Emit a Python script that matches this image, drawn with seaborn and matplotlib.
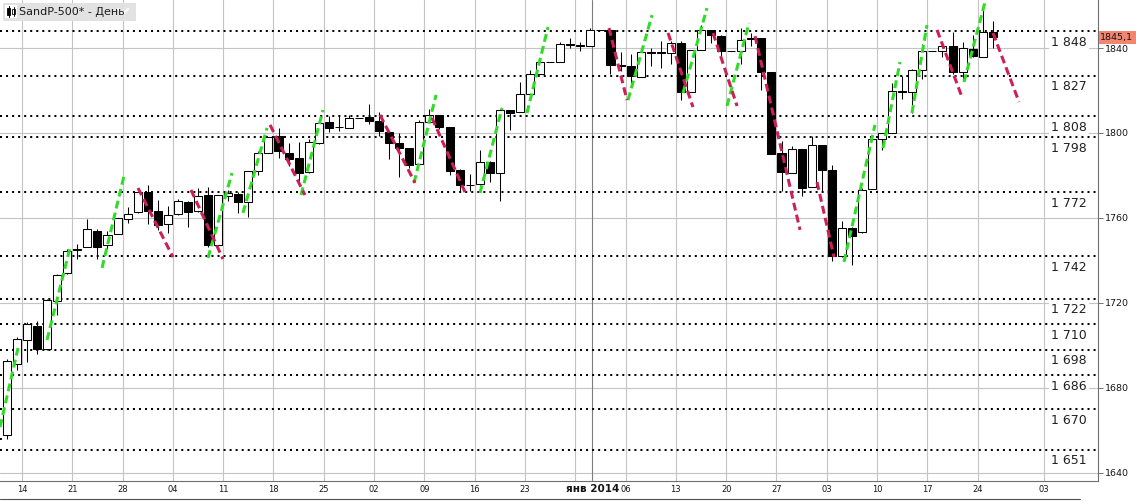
import numpy as np
import pandas as pd
import seaborn as sns
import matplotlib.pyplot as plt
from matplotlib.patches import Rectangle
from matplotlib.lines import Line2D

W, H = 1136, 501

# daily bars, 9 Oct 2013 .. 25 Feb 2014 (weekday slots, holidays are flat bars)
dates = pd.bdate_range("2013-10-09", "2014-02-25")

opens = [1656.0, 1658.0, 1691.1, 1702.7, 1709.2, 1698.5, 1721.0, 1734.0, 1745.2, 1746.5,
         1754.0, 1747.5, 1752.5, 1759.4, 1762.9, 1772.3, 1763.2, 1757.0, 1762.0, 1767.5,
         1763.5, 1770.7, 1747.5, 1770.3, 1771.5, 1767.7, 1782.0, 1790.7, 1798.5, 1790.8,
         1788.0, 1781.5, 1795.4, 1805.0, 1802.9, 1802.5, 1807.2, 1807.7, 1805.8, 1800.6,
         1795.1, 1792.8, 1785.5, 1805.0, 1808.5, 1802.8, 1782.6, 1775.7, 1776.0, 1786.5,
         1781.0, 1810.8, 1809.7, 1818.5, 1828.0, 1833.3, 1833.5, 1841.8, 1841.5, 1841.0,
         1848.4, 1848.6, 1832.0, 1831.5, 1826.5, 1837.9, 1837.7, 1837.8, 1842.5, 1819.2,
         1839.0, 1848.4, 1845.6, 1838.7, 1838.7, 1844.1, 1844.6, 1828.9, 1790.4, 1781.3,
         1792.3, 1774.4, 1794.4, 1782.6, 1741.9, 1755.2, 1753.3, 1773.5, 1797.0, 1799.9,
         1819.9, 1819.5, 1829.6, 1838.6, 1838.6, 1840.8, 1828.5, 1839.4, 1836.0, 1847.4]
highs = [1662.6, 1693.5, 1704.0, 1711.0, 1711.6, 1721.8, 1733.5, 1745.3, 1747.8, 1759.3,
         1754.7, 1754.0, 1759.9, 1765.0, 1772.1, 1775.3, 1768.5, 1765.5, 1768.8, 1767.8,
         1773.9, 1774.5, 1770.8, 1773.4, 1772.0, 1782.0, 1791.5, 1798.3, 1802.3, 1795.5,
         1795.8, 1797.2, 1804.8, 1808.1, 1808.4, 1808.3, 1807.2, 1813.6, 1810.0, 1800.6,
         1799.8, 1792.8, 1806.0, 1811.5, 1808.5, 1803.0, 1783.0, 1780.9, 1792.2, 1786.8,
         1811.1, 1810.9, 1823.8, 1829.8, 1833.3, 1833.3, 1842.8, 1844.9, 1843.0, 1849.4,
         1848.4, 1848.6, 1838.2, 1837.2, 1840.1, 1840.0, 1843.2, 1843.2, 1843.5, 1839.3,
         1850.8, 1848.4, 1846.0, 1838.7, 1849.3, 1846.9, 1844.6, 1828.9, 1796.0, 1793.9,
         1792.5, 1798.8, 1794.4, 1784.8, 1758.7, 1755.8, 1774.1, 1798.0, 1799.9, 1823.5,
         1826.6, 1830.3, 1841.7, 1838.6, 1842.9, 1847.5, 1842.8, 1846.1, 1858.7, 1852.9]
lows = [1646.5, 1656.0, 1688.6, 1692.1, 1695.9, 1698.0, 1714.1, 1733.5, 1740.7, 1746.5,
        1740.5, 1745.5, 1752.3, 1757.7, 1762.5, 1757.2, 1754.5, 1752.7, 1761.6, 1755.8,
        1763.0, 1746.2, 1746.6, 1767.9, 1762.3, 1760.6, 1780.2, 1790.6, 1788.0, 1784.7,
        1777.2, 1781.3, 1794.7, 1800.6, 1800.8, 1802.5, 1807.2, 1804.0, 1798.6, 1787.9,
        1779.1, 1783.4, 1785.3, 1805.0, 1801.8, 1780.1, 1772.3, 1772.5, 1775.5, 1777.1,
        1768.0, 1801.4, 1809.7, 1818.0, 1828.0, 1833.3, 1833.3, 1839.8, 1838.5, 1840.8,
        1848.4, 1827.7, 1829.1, 1823.7, 1826.5, 1831.4, 1830.4, 1832.4, 1815.5, 1819.2,
        1839.0, 1842.3, 1835.2, 1838.7, 1832.4, 1840.9, 1820.1, 1790.3, 1772.9, 1781.0,
        1770.5, 1774.4, 1772.3, 1739.7, 1741.5, 1737.9, 1753.0, 1773.5, 1791.8, 1799.9,
        1816.0, 1809.2, 1825.6, 1838.6, 1835.6, 1828.0, 1824.6, 1835.6, 1835.9, 1840.2]
closes = [1656.4, 1692.6, 1703.2, 1710.1, 1698.1, 1721.5, 1733.2, 1744.5, 1744.7, 1754.7,
          1746.4, 1752.1, 1759.8, 1762.1, 1772.0, 1763.3, 1756.5, 1761.6, 1767.9, 1763.0,
          1770.5, 1747.2, 1770.6, 1771.9, 1767.7, 1782.0, 1790.6, 1798.2, 1791.5, 1787.9,
          1781.4, 1795.9, 1804.8, 1802.5, 1802.8, 1807.2, 1807.2, 1805.8, 1800.9, 1795.2,
          1792.8, 1785.0, 1805.1, 1808.4, 1802.6, 1782.2, 1775.5, 1775.3, 1786.5, 1781.0,
          1810.7, 1809.6, 1818.3, 1828.0, 1833.3, 1833.3, 1842.0, 1841.4, 1841.1, 1848.4,
          1848.4, 1832.0, 1831.4, 1826.8, 1837.9, 1837.5, 1838.1, 1842.4, 1819.2, 1838.9,
          1848.4, 1845.9, 1838.7, 1838.7, 1843.8, 1844.9, 1828.5, 1790.3, 1781.6, 1792.5,
          1774.2, 1794.2, 1782.6, 1741.9, 1755.2, 1751.6, 1773.4, 1797.0, 1799.8, 1819.8,
          1819.3, 1829.8, 1838.6, 1838.6, 1840.8, 1828.8, 1839.8, 1836.3, 1847.6, 1845.1]

# horizontal support / resistance levels
levels = [1848, 1827, 1808, 1798, 1772, 1742, 1722, 1710, 1698, 1686, 1670, 1651]

# dashed projection segments: (bar slot, price) start -> end
up_x0 = [0.32, 4.99, 10.46, 20.99, 24.47, 30.24, 41.47, 48.03, 52.70, 62.74, 68.21, 72.58, 84.21, 88.09, 90.97, 96.14]
up_p0 = [1661.6, 1702.6, 1736.5, 1741.2, 1762.4, 1770.8, 1776.5, 1771.8, 1809.4, 1815.5, 1818.8, 1812.7, 1739.3, 1792.9, 1809.4, 1824.0]
up_x1 = [2.11, 7.27, 12.64, 23.38, 26.86, 32.42, 43.66, 50.22, 54.79, 65.13, 70.59, 74.77, 87.29, 89.78, 92.46, 98.23]
up_p1 = [1698.8, 1745.9, 1779.8, 1781.2, 1802.4, 1810.8, 1817.9, 1811.8, 1849.9, 1855.5, 1858.8, 1851.8, 1803.8, 1833.4, 1850.8, 1861.6]
dn_x0 = [14.03, 19.30, 27.16, 38.09, 43.26, 60.85, 66.72, 71.19, 75.37, 81.53, 93.46, 99.02]
dn_p0 = [1774.1, 1773.2, 1803.8, 1808.5, 1807.1, 1849.4, 1847.1, 1847.1, 1845.6, 1776.9, 1848.5, 1847.1]
dn_x1 = [17.51, 22.48, 30.63, 41.57, 46.54, 62.64, 69.20, 73.58, 79.84, 83.22, 95.94, 101.61]
dn_p1 = [1741.6, 1740.7, 1770.8, 1776.5, 1772.2, 1815.5, 1812.2, 1812.7, 1754.4, 1741.6, 1816.9, 1814.6]

price_ticks = [1640, 1680, 1720, 1760, 1800, 1840]
future_tick = 104.1      # "03" (March) sits past the last bar
SEG_COLORS = {"up": "#30dc28", "down": "#cc2157"}
GRID = "#c4c4c4"


def fx(px):
    return px / W


def fy(py):
    return 1 - py / H


def draw_candles(ax, x):
    o, h, l, c = (np.asarray(v) for v in (opens, highs, lows, closes))
    ax.vlines(x, l, h, color="black", lw=0.75, zorder=4)
    up = c >= o
    body_lo = np.minimum(o, c)
    body_h = np.abs(c - o)
    ax.bar(x[up], body_h[up], bottom=body_lo[up], width=0.8, color="white",
           edgecolor="black", linewidth=0.75, zorder=5)
    ax.bar(x[~up], body_h[~up], bottom=body_lo[~up], width=0.8, color="black",
           edgecolor="black", linewidth=0.75, zorder=5)


def draw_segments(ax):
    rows = []
    for kind, a0, b0, a1, b1 in (("up", up_x0, up_p0, up_x1, up_p1),
                                 ("down", dn_x0, dn_p0, dn_x1, dn_p1)):
        for k, seg in enumerate(zip(a0, b0, a1, b1)):
            rows.append({"seg": f"{kind}{k}", "kind": kind, "x": seg[0], "price": seg[1]})
            rows.append({"seg": f"{kind}{k}", "kind": kind, "x": seg[2], "price": seg[3]})
    segs = pd.DataFrame(rows)
    sns.lineplot(data=segs, x="x", y="price", units="seg", estimator=None,
                 hue="kind", style="kind", palette=SEG_COLORS,
                 dashes={"up": (2.6, 1.4), "down": (2.6, 1.4)},
                 sort=False, legend=False, linewidth=2.2, ax=ax, zorder=6)


def draw_levels(ax):
    for v in levels:
        ax.axhline(v, color="black", lw=1.45, linestyle=(0, (1, 2)), zorder=3)
        ax.annotate(f"{v // 1000} {v % 1000:03d}", xy=(1069 / 1098, v),
                    xycoords=("axes fraction", "data"), xytext=(0, -8),
                    textcoords="offset points", ha="center", va="center",
                    fontsize=9, color="#202020", zorder=2.5,
                    bbox=dict(boxstyle="square,pad=0.15", fc="white", ec="none"))


def draw_header(fig):
    fig.add_artist(Rectangle((fx(3), fy(21)), fx(133), 18 / H, color="#e2e2e2", lw=0))
    fig.add_artist(Rectangle((fx(5), fy(18)), fx(12), 13 / H, color="white", lw=0))
    for cx, top, bot, b0, b1, fill in ((8.5, 6, 17, 8, 15, "black"), (13.5, 7, 16, 9, 14, "white")):
        fig.add_artist(Line2D([fx(cx)] * 2, [fy(top), fy(bot)], color="black", lw=0.7))
        fig.add_artist(Rectangle((fx(cx - 1.5), fy(b1)), fx(3), (b1 - b0) / H,
                                 fc=fill, ec="black", lw=0.6))
    fig.text(fx(19), fy(12), "SandP-500* - День", fontsize=8, color="#1a1a1a",
             ha="left", va="center")
    fig.add_artist(Line2D([fx(118), fx(123), fx(128)], [fy(9), fy(14), fy(9)],
                          color="#fafafa", lw=1.6))


def main():
    sns.set_theme(style="white")
    plt.rcParams["font.family"] = ["DejaVu Sans"]

    x = np.arange(len(dates), dtype=float)
    fig = plt.figure(figsize=(W / 100, H / 100), dpi=100)
    fig.patch.set_facecolor("white")
    ax = fig.add_axes([0, fy(481), fx(1098), 481 / H])
    ax.set_facecolor("white")

    # grid: price lines and weekly separators
    for p in price_ticks:
        ax.axhline(p, color=GRID, lw=0.8, zorder=0.5)
    mondays = [i for i, d in enumerate(dates) if d.weekday() == 0]
    week_pos = [i - 0.5 for i in mondays] + [future_tick]
    # the week of 30 Dec carries the month label instead of a day number
    week_lab = ["" if dates[i] == pd.Timestamp("2013-12-30") else dates[i].strftime("%d")
                for i in mondays] + ["03"]
    jan1 = int(np.where(dates == pd.Timestamp("2014-01-01"))[0][0])
    for p in week_pos:
        ax.axvline(p, color=GRID, lw=0.8, zorder=0.5)
    ax.axvline(jan1 - 0.8, color="#7d7d7d", lw=0.8, zorder=0.6)

    draw_levels(ax)
    draw_candles(ax, x)
    draw_segments(ax)

    ax.set_xlim(0.316, 109.46)
    ax.set_ylim(1636.2, 1862.6)
    ax.set_xlabel("")
    ax.set_ylabel("")

    ax.set_xticks(week_pos)
    ax.set_xticklabels(week_lab)
    ax.tick_params(axis="x", length=0, labelsize=6, pad=3, labelcolor="#151515")
    ax.text(jan1 - 0.8, -0.0165, "янв 2014", transform=ax.get_xaxis_transform(),
            ha="center", va="center", fontsize=7.5, fontweight="bold", color="#151515")

    ax.yaxis.tick_right()
    ax.set_yticks(price_ticks)
    ax.tick_params(axis="y", direction="out", length=3.5, width=0.7, colors="#707070",
                   labelcolor="#151515", labelsize=6.8, pad=1.2)

    for side in ("top", "left"):
        ax.spines[side].set_visible(False)
    for side in ("right", "bottom"):
        ax.spines[side].set_color("#6e6e6e")
        ax.spines[side].set_linewidth(0.8)

    # last price marker
    last = closes[-1]
    ly = 48 + (1840 - last) * 481 / (1862.6 - 1636.2)
    fig.add_artist(Rectangle((fx(1099), fy(ly + 6.5)), fx(37), 13 / H, color="#f4866f", lw=0, zorder=10))
    fig.text(fx(1100), fy(ly), f"{last:.1f}".replace(".", ","), fontsize=6.8,
             color="#151515", ha="left", va="center", zorder=11)

    fig.add_artist(Line2D([0, fx(1080)], [fy(499)] * 2, color="#505050", lw=0.8))
    draw_header(fig)

    fig.savefig("out.png", dpi=100)


if __name__ == "__main__":
    main()
